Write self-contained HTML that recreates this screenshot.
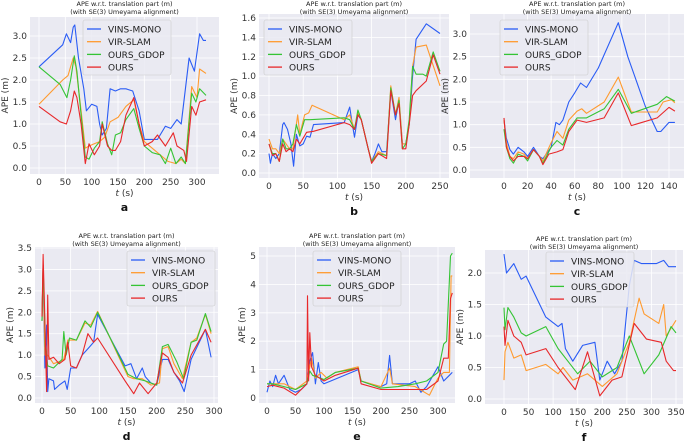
<!DOCTYPE html>
<html><head><meta charset="utf-8">
<style>
body{margin:0;background:#fff;}
svg{display:block;font-family:"DejaVu Sans","Liberation Sans",sans-serif;}
</style></head>
<body>
<svg id="fig" width="685" height="442" viewBox="0 0 685 442"></svg>
<script>
const seriesNames=["VINS-MONO","VIR-SLAM","OURS_GDOP","OURS"];
const seriesColors=["#2a5cf5","#ff9a2e","#35c435","#e8282a"];
const aVins=[[0,2.3],[45,2.8],[52,3.05],[60,2.85],[65,3.2],[68,3.25],[75,2.5],[85,1.8],[90,1.3],[100,1.45],[110,1.4],[115,1.0],[120,0.75],[128,0.9],[135,1.8],[145,1.75],[155,1.8],[165,1.8],[178,1.75],[190,1.3],[200,0.65],[225,0.65],[240,0.95],[250,0.9],[262,1.1],[270,1.0],[285,2.5],[295,2.2],[305,3.05],[312,2.9],[317,2.9]];
const aVir=[[0,1.45],[45,2.0],[55,2.1],[65,2.5],[70,2.3],[80,1.3],[88,0.45],[95,0.5],[105,0.55],[115,0.6],[125,0.7],[135,1.05],[150,1.15],[165,1.4],[180,1.55],[190,1.0],[200,0.6],[220,0.4],[235,0.25],[245,0.15],[260,0.1],[270,0.2],[278,0.1],[290,1.85],[300,1.6],[305,2.25],[317,2.15]];
const aGdop=[[0,2.3],[40,1.9],[53,1.6],[60,2.0],[67,2.55],[72,2.2],[80,1.2],[88,0.25],[95,0.2],[105,0.45],[115,0.6],[120,1.05],[130,0.55],[138,0.3],[145,0.75],[155,0.8],[165,1.1],[180,1.35],[190,0.9],[200,0.5],[215,0.35],[230,0.3],[240,0.1],[250,0.45],[260,0.1],[270,0.25],[278,0.1],[290,1.7],[298,1.5],[305,1.8],[317,1.65]];
const aOurs=[[0,1.4],[40,1.05],[52,1.0],[60,1.3],[67,1.75],[72,1.6],[80,1.0],[88,0.1],[95,0.55],[105,0.3],[115,0.5],[120,1.0],[130,0.5],[138,0.4],[145,0.4],[155,0.6],[165,1.2],[180,1.6],[190,1.0],[200,0.5],[215,0.6],[225,0.75],[240,0.5],[255,0.8],[262,0.5],[275,0.4],[280,0.15],[290,1.4],[298,1.2],[305,1.5],[317,1.55]];
const bVins=[[0,0.2],[2,0.1],[5,0.2],[10,0.15],[15,0.2],[20,0.5],[22,0.52],[27,0.45],[32,0.3],[36,0.07],[40,0.4],[45,0.28],[50,0.3],[55,0.38],[60,0.37],[65,0.5],[110,0.52],[118,0.68],[122,0.5],[125,0.37],[130,0.6],[135,0.55],[145,0.25],[150,0.12],[155,0.2],[160,0.3],[165,0.22],[172,0.22],[178,0.85],[185,0.55],[190,0.75],[195,0.3],[200,0.3],[205,0.5],[210,1.0],[215,1.38],[230,1.54],[250,1.44]];
const bVir=[[0,0.35],[5,0.25],[10,0.25],[15,0.2],[20,0.35],[25,0.3],[30,0.25],[35,0.25],[42,0.6],[45,0.4],[52,0.6],[58,0.62],[63,0.7],[110,0.55],[118,0.6],[125,0.45],[130,0.62],[135,0.55],[145,0.25],[150,0.12],[160,0.22],[172,0.18],[178,0.9],[185,0.6],[190,0.78],[195,0.3],[200,0.3],[205,0.5],[210,1.1],[215,1.3],[230,1.32],[250,0.9]];
const bGdop=[[0,0.3],[5,0.2],[10,0.2],[15,0.12],[20,0.35],[25,0.25],[30,0.25],[35,0.3],[40,0.5],[45,0.38],[52,0.55],[60,0.55],[110,0.57],[118,0.55],[125,0.45],[130,0.65],[135,0.55],[145,0.25],[150,0.12],[160,0.2],[172,0.18],[178,0.88],[185,0.6],[190,0.75],[195,0.25],[200,0.3],[205,0.55],[210,1.1],[215,1.02],[225,1.02],[230,1.0],[240,1.25],[250,1.05]];
const bOurs=[[0,0.3],[5,0.18],[10,0.2],[15,0.12],[20,0.3],[25,0.22],[30,0.25],[35,0.22],[40,0.35],[45,0.3],[55,0.42],[65,0.43],[110,0.52],[118,0.5],[125,0.45],[130,0.6],[135,0.55],[145,0.25],[150,0.1],[160,0.2],[172,0.15],[178,0.85],[185,0.6],[190,0.72],[195,0.25],[200,0.25],[205,0.5],[210,0.8],[215,0.85],[230,0.95],[240,1.22],[250,1.02]];
const cVins=[[0,1.1],[2,0.7],[5,0.45],[8,0.35],[12,0.5],[17,0.4],[20,0.3],[25,0.5],[30,0.3],[33,0.25],[40,0.5],[44,1.05],[47,1.0],[50,1.1],[55,1.5],[60,1.7],[65,1.92],[70,1.82],[80,2.25],[97,3.25],[105,2.5],[120,1.4],[130,0.85],[133,0.85],[140,1.05],[145,1.05]];
const cVir=[[0,1.1],[2,0.6],[5,0.3],[8,0.25],[12,0.4],[17,0.35],[20,0.25],[25,0.45],[30,0.3],[33,0.2],[40,0.6],[45,0.85],[50,0.7],[55,1.1],[62,1.3],[66,1.35],[70,1.25],[85,1.5],[97,2.05],[108,1.28],[130,1.28],[135,1.5],[142,1.55],[145,1.48]];
const cGdop=[[0,0.9],[2,0.5],[5,0.25],[8,0.15],[12,0.35],[17,0.3],[20,0.2],[25,0.45],[30,0.3],[33,0.15],[40,0.5],[45,0.65],[50,0.55],[55,0.9],[62,1.15],[70,1.15],[85,1.35],[97,1.78],[108,1.25],[130,1.45],[138,1.62],[145,1.52]];
const cOurs=[[0,1.15],[2,0.5],[5,0.3],[8,0.2],[12,0.3],[17,0.3],[20,0.25],[25,0.45],[30,0.3],[33,0.12],[38,0.35],[45,0.4],[50,0.45],[55,0.85],[62,1.1],[70,1.05],[85,1.15],[97,1.7],[108,0.98],[130,1.15],[140,1.38],[145,1.3]];
const dVins=[[0,1.8],[2,3.1],[5,0.7],[8,1.7],[10,0.15],[12,0.45],[20,0.4],[22,0.2],[30,0.3],[40,0.4],[44,0.2],[50,0.7],[60,0.7],[70,1.0],[80,1.15],[90,1.3],[97,1.95],[145,0.75],[155,0.8],[165,0.45],[175,0.7],[180,0.5],[190,0.35],[200,0.3],[210,0.9],[220,0.9],[230,0.6],[240,0.4],[248,0.15],[260,0.9],[285,1.6],[295,0.95]];
const dVir=[[0,1.8],[2,3.1],[5,1.0],[10,1.0],[20,0.8],[30,0.85],[38,0.9],[45,1.35],[60,1.35],[75,1.75],[85,1.7],[97,2.02],[150,0.5],[160,0.45],[175,0.45],[190,0.3],[205,0.35],[210,1.15],[220,1.2],[230,0.8],[245,0.45],[260,1.3],[270,1.4],[285,1.95],[295,1.5]];
const dGdop=[[0,1.8],[2,3.1],[6,1.2],[10,0.75],[20,0.7],[35,0.9],[38,1.55],[42,1.0],[48,1.4],[60,1.35],[75,1.8],[85,1.65],[97,2.0],[150,0.55],[165,0.45],[180,0.4],[200,0.3],[210,1.2],[220,1.25],[235,0.85],[247,0.45],[260,1.3],[270,1.35],[285,1.97],[295,1.55]];
const dOurs=[[0,1.9],[2,3.35],[5,1.8],[8,0.15],[10,2.4],[12,0.9],[20,0.95],[30,0.8],[40,0.9],[45,1.3],[50,0.75],[60,0.7],[70,1.0],[80,1.5],[90,1.3],[97,1.4],[145,0.4],[160,0.1],[170,0.35],[185,0.1],[200,0.35],[210,1.05],[220,0.95],[230,0.6],[245,0.35],[260,1.0],[285,1.6],[295,1.3]];
const eVins=[[0,0.2],[5,0.6],[10,0.4],[15,0.8],[20,0.5],[30,0.8],[40,0.3],[50,0.2],[60,0.3],[70,0.5],[75,1.3],[80,1.6],[85,0.5],[90,1.25],[95,0.6],[100,0.5],[160,1.0],[165,0.6],[180,0.5],[200,0.4],[210,0.5],[215,1.5],[220,0.5],[250,0.5],[260,0.6],[270,0.2],[280,0.4],[300,1.1],[310,0.6],[320,0.8],[325,0.9]];
const eVir=[[0,0.5],[10,0.5],[30,0.5],[50,0.3],[70,0.6],[78,1.4],[85,0.7],[95,0.9],[105,0.7],[120,0.9],[160,1.1],[165,0.6],[200,0.4],[215,1.05],[220,0.5],[260,0.4],[285,0.1],[300,0.7],[310,0.9],[320,0.9],[323,4.3],[325,4.3]];
const eGdop=[[0,0.5],[10,0.5],[30,0.4],[50,0.3],[70,0.5],[75,0.95],[80,0.8],[100,0.65],[120,0.9],[160,1.05],[165,0.6],[200,0.35],[230,0.4],[260,0.5],[280,0.6],[300,0.9],[310,1.9],[315,2.0],[322,5.0],[325,5.1]];
const eOurs=[[0,0.4],[10,0.45],[30,0.35],[50,0.1],[65,0.4],[70,0.5],[71,3.6],[73,0.6],[75,2.3],[78,1.1],[85,0.8],[100,0.6],[120,0.8],[160,1.05],[165,0.5],[200,0.3],[230,0.3],[260,0.3],[280,0.3],[300,0.6],[310,1.4],[318,1.4],[322,3.5],[325,3.7]];
const fVins=[[0,2.3],[5,2.0],[20,2.15],[35,1.9],[45,1.95],[85,1.3],[110,1.15],[118,1.2],[125,0.8],[140,0.6],[160,0.85],[185,0.9],[195,0.3],[210,0.6],[225,0.4],[240,0.6],[255,1.8],[265,2.2],[280,2.15],[310,2.15],[325,2.2],[335,2.1],[350,2.1]];
const fVir=[[0,0.3],[2,0.75],[8,0.9],[20,0.65],[35,0.7],[45,0.45],[85,0.55],[110,0.4],[120,0.5],[140,0.3],[170,0.4],[200,0.2],[230,0.4],[255,0.9],[275,1.6],[285,1.35],[315,1.2],[325,1.5],[330,1.0],[350,1.25]];
const fGdop=[[0,1.45],[2,1.1],[8,1.45],[20,1.3],[35,1.05],[45,1.0],[85,1.15],[110,0.8],[130,0.6],[150,0.4],[175,0.6],[200,0.35],[230,0.5],[255,1.0],[285,0.4],[315,0.7],[340,1.15],[350,1.05]];
const fOurs=[[0,1.15],[2,0.85],[8,1.25],[20,1.0],[35,0.9],[45,0.7],[85,0.8],[110,0.5],[145,0.15],[170,0.75],[195,0.05],[220,0.3],[240,0.35],[265,1.2],[290,0.95],[320,0.9],[330,0.6],[345,0.45],[350,0.45]];
const aXTicks=[0,50,100,150,200,250,300], aYTicks=[0,0.5,1,1.5,2,2.5,3];
const bXTicks=[0,50,100,150,200,250], bYTicks=[0,0.2,0.4,0.6,0.8,1,1.2,1.4,1.6];
const cXTicks=[0,20,40,60,80,100,120,140], cYTicks=[0,0.5,1,1.5,2,2.5,3];
const dXTicks=[0,50,100,150,200,250,300], dYTicks=[0,0.5,1,1.5,2,2.5,3,3.5];
const eXTicks=[0,50,100,150,200,250,300], eYTicks=[0,1,2,3,4,5];
const fXTicks=[0,50,100,150,200,250,300,350], fYTicks=[0,0.5,1,1.5,2];

const NS="http://www.w3.org/2000/svg";
const svg=document.getElementById('fig');
function el(tag,attrs,parent){const e=document.createElementNS(NS,tag);for(const k in attrs)e.setAttribute(k,attrs[k]);(parent||svg).appendChild(e);return e;}
function fmt(v,dec){return v.toFixed(dec);}
const panels=[
 {id:'a',L:30,R:219,T:17,B:174,x0:39,x1:197,xv1:300,y0:168,y1:36,yv1:3,xt:aXTicks,yt:aYTicks,dec:1,data:[aVins,aVir,aGdop,aOurs],lg:[83,20]},
 {id:'b',L:259,R:449,T:14,B:178,x0:269,x1:440,xv1:250,y0:173,y1:18,yv1:1.6,xt:bXTicks,yt:bYTicks,dec:1,data:[bVins,bVir,bGdop,bOurs],lg:[264,20]},
 {id:'c',L:470,R:684,T:14,B:178,x0:504,x1:669,xv1:140,y0:170,y1:34,yv1:3,xt:cXTicks,yt:cYTicks,dec:1,data:[cVins,cVir,cGdop,cOurs],lg:[500,20]},
 {id:'d',L:35,R:218,T:247,B:403,x0:42,x1:214,xv1:300,y0:398,y1:248,yv1:3.5,xt:dXTicks,yt:dYTicks,dec:1,data:[dVins,dVir,dGdop,dOurs],lg:[127,251]},
 {id:'e',L:259,R:455,T:247,B:403,x0:267,x1:438,xv1:300,y0:398,y1:256,yv1:5,xt:eXTicks,yt:eYTicks,dec:0,data:[eVins,eVir,eGdop,eOurs],lg:[313,251]},
 {id:'f',L:485,R:683,T:250,B:404,x0:504,x1:676,xv1:350,y0:399,y1:273,yv1:2,xt:fXTicks,yt:fYTicks,dec:1,data:[fVins,fVir,fGdop,fOurs],lg:[546,252]}
];
panels.forEach(p=>{
 const X=v=>p.x0+(p.x1-p.x0)*v/p.xv1;
 const Y=v=>p.y0+(p.y1-p.y0)*v/p.yv1;
 const g=el('g',{});
 
 
 const bg=el('rect',{x:p.L,y:p.T,width:p.R-p.L,height:p.B-p.T,fill:'#eaeaf2'},g);
 
 
 const cx=(p.L+p.R)/2;
 const ty=p.id<'d'?4:p.T-11;
 const t1=el('text',{x:cx,y:ty+2,'font-size':6.5,'text-anchor':'middle',fill:'#222'},g);t1.textContent='APE w.r.t. translation part (m)';
 
 
 const t2=el('text',{x:cx,y:ty+10,'font-size':6.5,'text-anchor':'middle',fill:'#222'},g);t2.textContent='(with SE(3) Umeyama alignment)';
 
 
 p.xt.forEach(v=>{const x=X(v);
  el('line',{x1:x,x2:x,y1:p.T,y2:p.B,stroke:'#fff','stroke-width':0.8},g);
  const t=el('text',{x:x,y:p.B+11,'font-size':9,'text-anchor':'middle',fill:'#333'},g);t.textContent=v;
  
  });
 p.yt.forEach(v=>{const y=Y(v);
  el('line',{x1:p.L,x2:p.R,y1:y,y2:y,stroke:'#fff','stroke-width':0.8},g);
  const t=el('text',{x:p.L-3,y:y+3,'font-size':9,'text-anchor':'end',fill:'#333'},g);t.textContent=fmt(v,p.dec);
  
  });
 const yl=el('text',{x:0,y:0,'font-size':9,'text-anchor':'middle',fill:'#333',transform:`translate(${p.L-(p.dec?22:14)},${(p.T+p.B)/2}) rotate(-90)`},g);yl.textContent='APE (m)';
 
 
 const xl=el('text',{x:cx,y:p.B+22,'font-size':9,'text-anchor':'middle',fill:'#333'},g);
 xl.innerHTML='<tspan font-style="italic">t</tspan> (s)';
 
 
 const lt=el('text',{x:cx,y:p.B+37,'font-size':11,'font-weight':'bold','text-anchor':'middle',fill:'#111'},g);lt.textContent=p.id;
 
 
 p.data.forEach((s,i)=>{
  const pl=el('polyline',{points:s.map(d=>X(d[0]).toFixed(1)+','+Y(d[1]).toFixed(1)).join(' '),fill:'none',stroke:seriesColors[i],'stroke-width':1.1,'stroke-linejoin':'round'},g);
  
  
 });
 const lg=el('g',{},g);
 
 
 el('rect',{x:p.lg[0],y:p.lg[1],width:88,height:55,rx:2,fill:'#eaeaf2','fill-opacity':0.85,stroke:'#ccc','stroke-width':0.6},lg);
 seriesNames.forEach((n,i)=>{const y=p.lg[1]+9+i*12.7;
  el('line',{x1:p.lg[0]+4,x2:p.lg[0]+18,y1:y,y2:y,stroke:seriesColors[i],'stroke-width':1.3},lg);
  const t=el('text',{x:p.lg[0]+25,y:y+3.5,'font-size':9,fill:'#222'},lg);t.textContent=n;
  
  });
});
</script>
</body></html>
